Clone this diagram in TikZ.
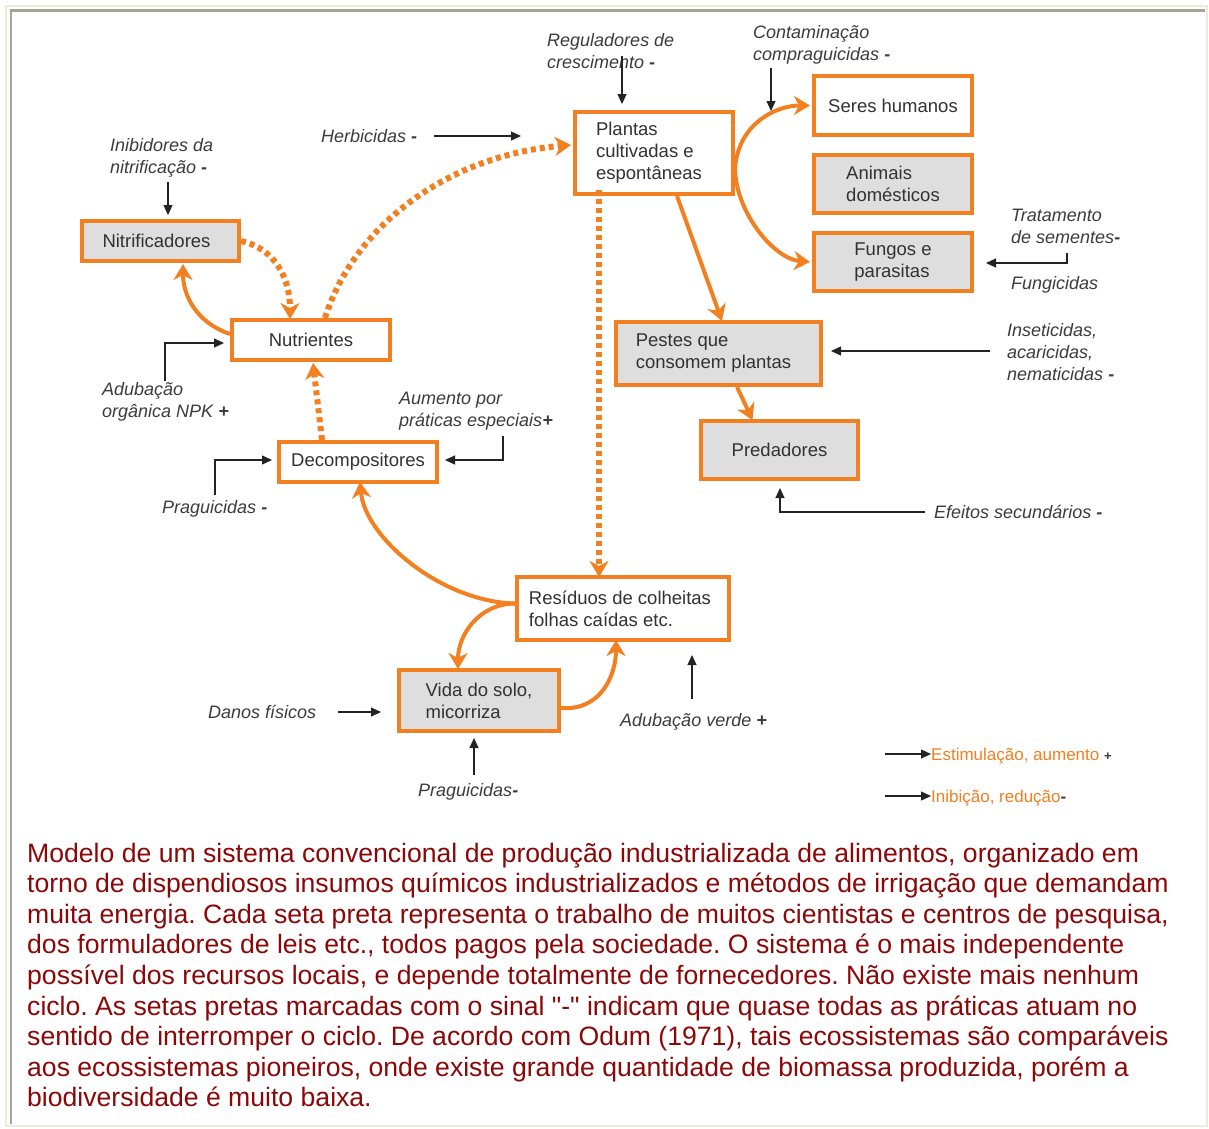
\documentclass[tikz,border=0pt]{standalone}
\usepackage{fontspec}
\setmainfont{Liberation Sans}
\newfontfamily\qfont{Liberation Sans}[Ligatures=TeXOff]
\usetikzlibrary{arrows.meta}
\definecolor{orng}{RGB}{242,128,32}
\definecolor{boxgray}{RGB}{222,222,222}
\definecolor{txt}{RGB}{50,50,50}
\definecolor{labc}{RGB}{60,60,60}
\definecolor{blk}{RGB}{35,35,35}
\definecolor{capred}{RGB}{140,8,8}
\definecolor{beige}{RGB}{238,234,216}
\definecolor{framegray}{RGB}{168,164,148}
\newcommand{\boxfont}{\fontsize{18.5}{22}\selectfont}
\newcommand{\labfont}{\fontsize{18}{22}\selectfont\itshape}
\newcommand{\capfont}{\fontsize{26.6}{30.6}\selectfont}
\newcommand{\mn}{\textbf{-}}
\newcommand{\pl}{\textbf{+}}
\frenchspacing
\tikzset{
  box/.style={draw=orng, line width=4pt, inner sep=0pt, align=left, font=\boxfont, text=txt, fill=white},
  gbox/.style={box, fill=boxgray},
  lab/.style={font=\labfont, text=labc, align=left, anchor=base west, inner sep=0pt},
  oarr/.style={draw=orng, line width=4pt, -{Stealth[length=16pt,width=19pt,inset=5pt]}},
  odot/.style={oarr, line width=6pt, dash pattern=on 5pt off 4pt},
  barr/.style={draw=blk, line width=1.2pt, -{Triangle[length=10pt,width=9pt]}},
  capline/.style={font=\capfont, text=capred, anchor=base west, inner sep=0pt},
  leg/.style={font=\fontsize{17}{20}\selectfont, text=orng, anchor=base west, inner sep=0pt}
}
\begin{document}
\begin{tikzpicture}[x=1pt,y=-1pt]
\useasboundingbox[fill=white] (0,0) rectangle (1209,1128);
% frame
\draw[beige, line width=2.5pt] (6,6) rectangle (1207,1126);
\draw[framegray, line width=2.5pt] (11,1124) -- (11,10.5) -- (1205,10.5);

% boxes
\node[gbox, minimum width=157pt, minimum height=40pt] (nitr) at (160.5,241) {Nitrificadores\hspace*{8pt}};
\node[box, minimum width=158pt, minimum height=40pt] (nutr) at (311,340) {Nutrientes};
\node[box, minimum width=158pt, minimum height=40pt] (decomp) at (358,462) {Decompositores};
\node[box, minimum width=158pt, minimum height=82pt] (plantas) at (654,153) {Plantas\\cultivadas e\\espontâneas\hspace*{10pt}};
\node[box, minimum width=158pt, minimum height=59pt] (seres) at (893,105.5) {Seres humanos};
\node[gbox, minimum width=158pt, minimum height=58pt] (animais) at (893,184) {Animais\\domésticos};
\node[gbox, minimum width=158pt, minimum height=58pt] (fungos) at (893,262) {Fungos e\\parasitas};
\node[gbox, minimum width=205pt, minimum height=63pt] (pestes) at (718.5,353.5) {Pestes que\\consomem plantas\hspace*{10pt}};
\node[gbox, minimum width=157pt, minimum height=58pt] (pred) at (779.5,450) {Predadores};
\node[box, minimum width=212pt, minimum height=63pt] (resid) at (623,608.5) {Resíduos de colheitas\hspace*{6pt}\\folhas caídas etc.};
\node[gbox, minimum width=160pt, minimum height=61pt] (vida) at (479,700.5) {Vida do solo,\\micorriza};

% labels (anchor at baseline of last line)
\node[lab] (lreg) at (547,68) {Reguladores de\\crescimento \mn};
\node[lab] (lcont) at (753,60) {Contaminação\\compraguicidas \mn};
\node[lab] (lherb) at (321,142) {Herbicidas \mn};
\node[lab] (linib) at (110,173) {Inibidores da\\nitrificação \mn};
\node[lab] (ladub) at (102,417) {Adubação\\orgânica NPK \pl};
\node[lab] (laum) at (399,426) {Aumento por\\práticas especiais\pl};
\node[lab] (lprag1) at (162,513) {Praguicidas \mn};
\node[lab] (ltrat) at (1011,243) {Tratamento\\de sementes\mn};
\node[lab] (lfung) at (1011,289) {Fungicidas};
\node[lab] (lins) at (1007,380) {Inseticidas,\\acaricidas,\\nematicidas \mn};
\node[lab] (lefe) at (934,518) {Efeitos secundários \mn};
\node[lab] (ldanos) at (208,718) {Danos físicos};
\node[lab] (lprag2) at (418,796) {Praguicidas\mn};
\node[lab] (lverde) at (620,726) {Adubação verde \pl};

% black arrows
\coordinate (regS) at (622,56);
\draw[barr] (regS) -- ([xshift=-32pt,yshift=6pt]plantas.north);
\coordinate (contS) at (771,68);
\coordinate (contE) at (771,111);
\draw[barr] (contS) -- (contE);
\coordinate (herbS) at (434,136);
\coordinate (herbE) at (521,136);
\draw[barr] (herbS) -- (herbE);
\coordinate (inibS) at (168,182);
\draw[barr] (inibS) -- ([xshift=7.5pt,yshift=4pt]nitr.north);
\coordinate (adubS) at (165,381);
\draw[barr] (adubS) |- ([xshift=-6pt,yshift=-3pt]nutr.west);
\coordinate (aumS) at (503,436);
\draw[barr] (aumS) |- ([xshift=6pt,yshift=2pt]decomp.east);
\coordinate (prag1S) at (215,495);
\draw[barr] (prag1S) |- ([xshift=-5pt,yshift=2pt]decomp.west);
\coordinate (tratS) at (1067,253);
\draw[barr] (tratS) |- ([xshift=12pt,yshift=-1pt]fungos.east);
\coordinate (insS) at (990,351);
\draw[barr] (insS) -- ([xshift=8pt,yshift=2.5pt]pestes.east);
\coordinate (efeS) at (925,512);
\draw[barr] (efeS) -| ([xshift=0.5pt,yshift=-7pt]pred.south);
\coordinate (danosS) at (338,712);
\draw[barr] (danosS) -- ([xshift=-16pt,yshift=-11.5pt]vida.west);
\coordinate (prag2S) at (474,775);
\draw[barr] (prag2S) -- ([xshift=-5pt,yshift=-5pt]vida.south);
\coordinate (verdeS) at (692,699);
\coordinate (verdeE) at (692,655);
\draw[barr] (verdeS) -- (verdeE);

% orange solid arrows
\draw[oarr] ([yshift=6pt]nutr.west) .. controls +(-35,-12) and +(0,30) .. ([xshift=22.5pt,yshift=-1pt]nitr.south);
\draw[oarr] ([yshift=-17pt]plantas.east) .. controls +(2,-45) and +(-35,0) .. ([xshift=-2pt]seres.west);
\draw[oarr] ([yshift=-17pt]plantas.east) .. controls +(2,45) and +(-35,-3) .. ([xshift=-2pt]fungos.west);
\draw[oarr] ([xshift=23pt]plantas.south) -- ([xshift=3.5pt,yshift=-1pt]pestes.north);
\draw[oarr] ([xshift=18.5pt]pestes.south) -- ([xshift=-27pt,yshift=-1pt]pred.north);
\draw[oarr] ([yshift=5pt]resid.west) .. controls +(-75,-2) and +(5,55) .. ([xshift=2pt,yshift=2pt]decomp.south);
\draw[oarr] ([yshift=5pt]resid.west) .. controls +(-35,0) and +(0,-35) .. ([xshift=-21pt,yshift=-1pt]vida.north);
\draw[oarr] ([yshift=-7.5pt]vida.east) .. controls +(40,3) and +(0,35) .. ([xshift=-7pt,yshift=2pt]resid.south);

% orange dotted arrows
\draw[odot] (nitr.east) .. controls +(35,8) and +(0,-40) .. ([xshift=-21pt,yshift=-1pt]nutr.north);
\draw[odot] ([xshift=14pt]nutr.north) .. controls +(30,-95) and +(-120,10) .. ([xshift=-2pt,yshift=8pt]plantas.west);
\draw[odot] ([xshift=-36pt]decomp.north) -- ([xshift=2pt,yshift=-1pt]nutr.south);
\draw[odot] ([xshift=-55pt,yshift=6pt]plantas.south) -- ([xshift=-24pt,yshift=-2pt]resid.north);

% legend
\coordinate (leg1S) at (885,754);
\coordinate (leg1E) at (931,754);
\draw[barr] (leg1S) -- (leg1E);
\node[leg] (leg1) at (931,760) {Estimulação, aumento \textcolor{labc}{\fontsize{13}{15}\selectfont\textbf{+}}};
\coordinate (leg2S) at (885,796);
\coordinate (leg2E) at (931,796);
\draw[barr] (leg2S) -- (leg2E);
\node[leg] (leg2) at (931,802) {Inibição, redução\textcolor{labc}{\textbf{-}}};

% caption
\node[capline] (c1) at (27,862) {Modelo de um sistema convencional de produção industrializada de alimentos, organizado em};
\node[capline] (c2) at (27,892.6) {torno de dispendiosos insumos químicos industrializados e métodos de irrigação que demandam};
\node[capline] (c3) at (27,923.2) {muita energia. Cada seta preta representa o trabalho de muitos cientistas e centros de pesquisa,};
\node[capline] (c4) at (27,953.8) {dos formuladores de leis etc., todos pagos pela sociedade. O sistema é o mais independente};
\node[capline] (c5) at (27,984.4) {possível dos recursos locais, e depende totalmente de fornecedores. Não existe mais nenhum};
\node[capline] (c6) at (27,1015) {ciclo. As setas pretas marcadas com o sinal {\qfont"-"} indicam que quase todas as práticas atuam no};
\node[capline] (c7) at (27,1045.6) {sentido de interromper o ciclo. De acordo com Odum (1971), tais ecossistemas são comparáveis};
\node[capline] (c8) at (27,1076.2) {aos ecossistemas pioneiros, onde existe grande quantidade de biomassa produzida, porém a};
\node[capline] (c9) at (27,1106.8) {biodiversidade é muito baixa.};
\end{tikzpicture}
\end{document}
